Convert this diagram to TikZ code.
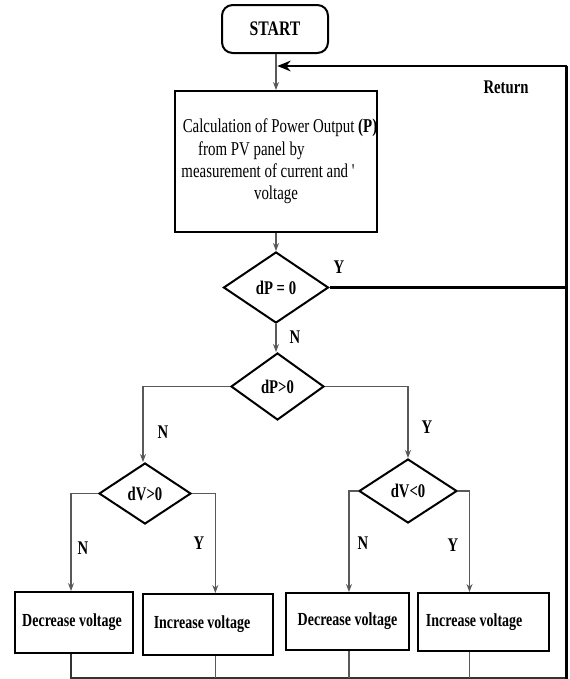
\documentclass[tikz,border=0pt]{standalone}
\usepackage{fontspec}
\newfontfamily\cf[FakeStretch=0.76]{Liberation Serif}
\usetikzlibrary{shapes.geometric,arrows.meta}
\begin{document}
\begin{tikzpicture}[x=0.75pt,y=-0.75pt,
  every node/.style={font=\cf},
  startbox/.style={draw,line width=1.5pt,rounded corners=8pt,font=\cf\bfseries\fontsize{15.5}{17}\selectfont,inner sep=0pt},
  procbox/.style={draw,line width=1.5pt,inner sep=0pt,font=\cf\bfseries\fontsize{13.8}{15}\selectfont},
  decision/.style={draw,diamond,line width=1.5pt,inner sep=0pt,font=\cf\bfseries\fontsize{14.5}{16}\selectfont},
  lbl/.style={font=\cf\bfseries\fontsize{14.5}{16}\selectfont,inner sep=0pt},
  conn/.style={draw=black!65,line width=0.9pt},
  arr/.style={conn,-{Stealth[length=6pt,width=4.5pt,fill=black!80]}},
  heavy/.style={draw=black,line width=2pt},
  retarr/.style={draw=black,line width=2.2pt,-{Stealth[length=10pt,width=8pt]}}]
\useasboundingbox (0,0) rectangle (569,679);
% nodes
\node[startbox,minimum width=79.5pt,minimum height=36pt] (start) at (275,29) {START};
\node[draw,line width=1.5pt,inner sep=0pt,minimum width=151.5pt,minimum height=105.75pt,
  align=center,font=\cf\fontsize{14.7}{16.7}\selectfont] (calc) at (276,161.5)
  {\kern6pt Calculation of Power Output {\bfseries(P)}\\
   from PV panel by\kern37pt\\
   measurement of current and '\kern12pt\\
   voltage};
\node[decision,minimum width=78.75pt,minimum height=53.25pt] (d1) at (276,287.5) {dP = 0};
\node[decision,minimum width=69.75pt,minimum height=50.25pt] (d2) at (277.5,386.5) {dP>0};
\node[decision,minimum width=69pt,minimum height=45.75pt] (d3) at (145,493.5) {dV>0};
\node[decision,minimum width=73.5pt,minimum height=48pt] (d4) at (408,491) {dV<0};
\node[procbox,minimum width=88.5pt,minimum height=45.75pt] (b1) at (74,622.5) {\raisebox{4pt}{Decrease voltage}\kern3pt};
\node[procbox,minimum width=97.5pt,minimum height=45.75pt] (b2) at (208,624.5) {\raisebox{-2pt}{Increase voltage}\kern9pt};
\node[procbox,minimum width=92.25pt,minimum height=42.75pt] (b3) at (347.5,621.5) {Decrease voltage};
\node[procbox,minimum width=98.25pt,minimum height=43.5pt] (b4) at (483.5,622) {\raisebox{-1.5pt}{Increase voltage}\kern14pt};
% labels
\node[lbl] (ret) at (506,87) {Return};
\node[lbl] (y1) at (339,267) {Y};
\node[lbl] (n1) at (295,337) {N};
\node[lbl] (n2) at (163,432) {N};
\node[lbl] (y2) at (427,427) {Y};
\node[lbl] (n3) at (83,548) {N};
\node[lbl] (y3) at (199,543) {Y};
\node[lbl] (n4) at (363,543) {N};
\node[lbl] (y4) at (453,545) {Y};
% helper coordinates
\coordinate (rt) at (566.5,66);
\coordinate (bot) at (566.5,678);
% connectors
\draw[arr] (start.south -| calc.north) -- (calc.north);
\draw[arr] (calc.south) -- (d1.north);
\draw[arr] (d1.south) -- (d1.south |- d2.north);
\draw[arr] (d2.west) -| ([xshift=-1.5pt]d3.north);
\draw[arr] (d2.east) -| (d4.north);
\draw[arr] (d3.west) -| ([xshift=-2.25pt]b1.north);
\draw[arr] (d3.east) -| ([xshift=5.5pt]b2.north);
\draw[arr] (d4.west) -| ([xshift=1.1pt]b3.north);
\draw[arr] (d4.east) -| ([xshift=-10.5pt]b4.north);
\draw[conn,draw=black!80] ([xshift=-2.25pt]b1.south) -- ([xshift=-2.25pt]b1.south |- bot) -- (bot);
\draw[conn] ([xshift=5.5pt]b2.south) -- ([xshift=5.5pt]b2.south |- bot);
\draw[conn] ([xshift=1.1pt]b3.south) -- ([xshift=1.1pt]b3.south |- bot);
\draw[conn] ([xshift=-10.5pt]b4.south) -- ([xshift=-10.5pt]b4.south |- bot);
\draw[heavy] (d1.east) -- (d1.east -| rt);
\draw[draw=black,line width=1.8pt] (566.5,679) -- (rt);
\draw[retarr] (rt) -- ([xshift=1pt]rt -| calc.north);
\end{tikzpicture}
\end{document}
